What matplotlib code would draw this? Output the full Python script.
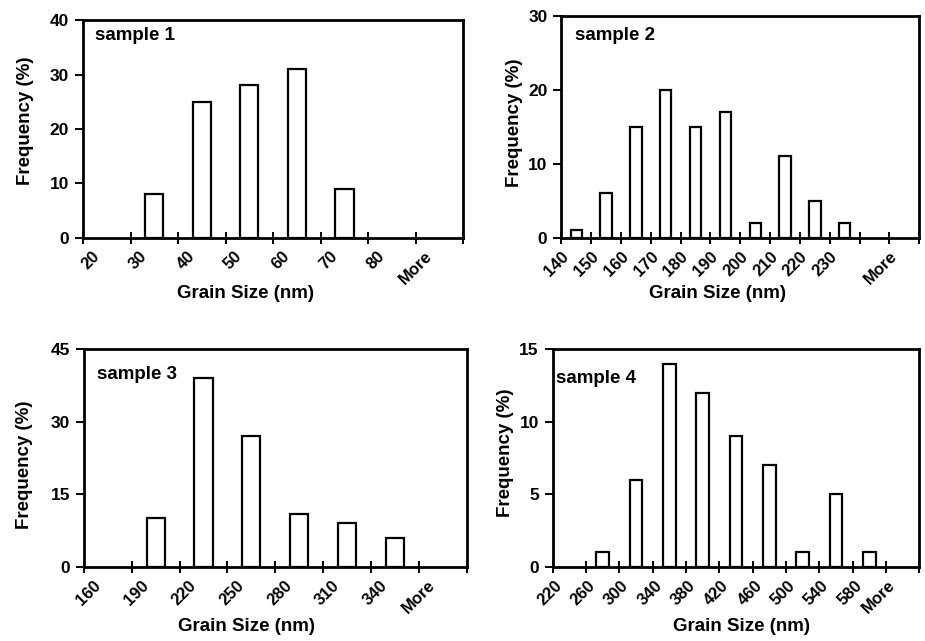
import numpy as np
import matplotlib
matplotlib.use("Agg")
import matplotlib.pyplot as plt
import matplotlib.transforms as mtransforms

plt.rcParams['font.family'] = ['Liberation Sans', 'DejaVu Sans']
plt.rcParams['font.weight'] = 'bold'

# grain size bins (Excel histogram categories) and frequency (%)
s1_bins = ['20', '30', '40', '50', '60', '70', '80', 'More']
s1_freq = [0, 8, 25, 28, 31, 9, 0, 0]
s1_yticks = [0, 10, 20, 30, 40]

s2_bins = ['140', '150', '160', '170', '180', '190', '200', '210', '220', '230', '', 'More']
s2_freq = [1, 6, 15, 20, 15, 17, 2, 11, 5, 2, 0, 0]
s2_yticks = [0, 10, 20, 30]

s3_bins = ['160', '190', '220', '250', '280', '310', '340', 'More']
s3_freq = [0, 10, 39, 27, 11, 9, 6, 0]
s3_yticks = [0, 15, 30, 45]

s4_bins = ['220', '260', '300', '340', '380', '420', '460', '500', '540', '580', 'More']
s4_freq = [0, 1, 6, 14, 12, 9, 7, 1, 5, 1, 0]
s4_yticks = [0, 5, 10, 15]

fig = plt.figure(figsize=(9.25, 6.41), dpi=100)

# layout per panel: axes rect, left x-limit, ylabel pos, xlabel pos, "sample" text pos
layout = [
    ('sample 1', s1_bins, s1_freq, s1_yticks, [0.0897, 0.6292, 0.4112, 0.3392], 0.0,
     (-0.130, 0.538), (0.427, -0.218), (0.031, 0.929)),
    ('sample 2', s2_bins, s2_freq, s2_yticks, [0.6068, 0.6292, 0.3870, 0.3463], 0.0,
     (-0.108, 0.519), (0.435, -0.213), (0.039, 0.913)),
    ('sample 3', s3_bins, s3_freq, s3_yticks, [0.0908, 0.1159, 0.4137, 0.3392], 0.08,
     (-0.132, 0.471), (0.424, -0.236), (0.033, 0.882)),
    ('sample 4', s4_bins, s4_freq, s4_yticks, [0.5975, 0.1159, 0.3963, 0.3392], 0.16,
     (-0.106, 0.522), (0.515, -0.236), (0.010, 0.867)),
]

# Excel puts the rotated labels a bit left of the category centre
offset = mtransforms.ScaledTranslation(-15 / 100, 0, fig.dpi_scale_trans)

for name, bins, freq, yticks, rect, x0, ylab, xlab, txt in layout:
    ax = fig.add_axes(rect)
    n = len(bins)
    centers = np.arange(n) + 0.5
    freq = np.array(freq)
    keep = freq > 0  # Excel draws nothing for empty bins
    ax.bar(centers[keep], freq[keep], width=0.38, facecolor='white',
           edgecolor='black', linewidth=1.6)

    ax.set_xlim(x0, n)
    ax.set_ylim(0, yticks[-1])

    # tick marks between categories, labels at category centres
    ax.set_xticks(np.arange(n + 1))
    ax.set_xticklabels([])
    ax.set_xticks(centers, minor=True)
    ax.set_xticklabels(bins, minor=True, rotation=45, ha='right', va='top',
                       rotation_mode='anchor', fontsize=12, fontweight='bold')
    ax.tick_params(axis='x', which='major', direction='inout', length=8, width=1.4)
    ax.tick_params(axis='x', which='minor', length=0, pad=8)
    for lab in ax.get_xticklabels(minor=True):
        lab.set_transform(lab.get_transform() + offset)

    ax.set_yticks(yticks)
    ax.tick_params(axis='y', direction='out', length=6, width=1.4, pad=4, labelsize=12.5)

    for sp in ax.spines.values():
        sp.set_linewidth(2)

    ax.set_ylabel('Frequency (%)', fontsize=13.5, fontweight='bold')
    ax.yaxis.set_label_coords(*ylab)
    ax.set_xlabel('Grain Size (nm)', fontsize=13.5, fontweight='bold')
    ax.xaxis.set_label_coords(*xlab)

    ax.text(txt[0], txt[1], name, transform=ax.transAxes, fontsize=13.5,
            fontweight='bold', ha='left', va='center')

fig.savefig('out.png', dpi=100)
